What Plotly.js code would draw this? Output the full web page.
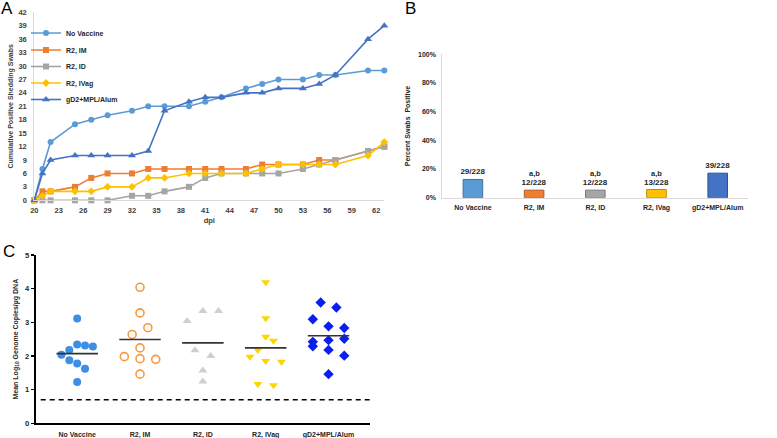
<!DOCTYPE html>
<html><head><meta charset="utf-8">
<script src="https://cdn.plot.ly/plotly-3.0.1.min.js"></script>
<style>html,body{margin:0;padding:0;background:#fff}#chart{width:777px;height:438px}</style>
</head><body><div id="chart"></div>
<script>
// ---------- Panel A: cumulative positive shedding swabs ----------
const dpi       = [20,21,22,25,27,29,32,34,36,39,41,43,46,48,50,53,55,57,61,63];
const noVaccine = [0,7,13,17,18,19,20,21,21,21,22,23,25,26,27,27,28,28,29,29];
const r2IM      = [0,2,2,3,5,6,6,7,7,7,7,7,7,8,8,8,9,9,11,12];
const r2ID      = [0,0,0,0,0,0,1,1,2,3,5,6,6,6,6,7,8,9,11,12];
const r2IVag    = [0,1,2,2,2,3,3,5,5,6,6,6,6,7,8,8,8,8,10,13];
const gD2Alum   = [0,6,9,10,10,10,10,11,20,22,23,23,24,24,25,25,26,28,36,39];

// ---------- Panel B: percent swabs positive ----------
const groups    = ['No Vaccine','R2, IM','R2, ID','R2, IVag','gD2+MPL/Alum'];
const positives = [29,12,12,13,39];
const totalSwabs = 228;
const sigLabels = ['','a,b','a,b','a,b',''];

// ---------- Panel C: mean log10 genome copies ----------
const cNoVaccine   = [3.11,2.34,2.31,2.28,2.18,2.04,1.87,1.78,1.62,1.23];
const cNoVaccineSl = [0,0,1,2,-1,-2,-1,0,1,0];
const cIM          = [4.04,3.28,2.84,2.64,2.24,1.98,1.92,1.90,1.46];
const cIMSl        = [0,0,1,-1,0,-2,0,2,0];
const cID          = [3.34,3.34,3.04,2.17,2.00,1.57,1.24];
const cIDSl        = [0,2,-2,-1,1,0,0];
const cIVag        = [4.19,3.12,2.57,2.45,2.18,1.98,1.85,1.83,1.17,1.13];
const cIVagSl      = [0,0,0,1,-1,-2,0,2,-1,1];
const cGD2         = [3.59,3.44,3.09,2.88,2.83,2.51,2.47,2.42,2.29,2.18,2.01,1.46];
const cGD2Sl       = [-1,1,-2,0,2,2,0,-2,-2,0,2,0];
const cMeans       = [2.07,2.49,2.39,2.24,2.60];
const detectionLimit = 0.7;

const FF = 'Liberation Sans, Arial, sans-serif';
const tf = (s, c) => ({family: FF, size: s, color: c || '#404040', weight: 'bold'});
const colsA = ['#5B9BD5','#ED7D31','#A5A5A5','#FFC000','#4472C4'];
const edgeB = ['#41719C','#AE5A21','#787878','#BC8C00','#2F528F'];

const seriesA = [noVaccine, r2IM, r2ID, r2IVag, gD2Alum];
const symA = ['circle','square','square','diamond','triangle-up'];
const sizeA = [6,6,6,6,7];
const legNames = ['legend','legend2','legend3','legend4','legend5'];

const traces = [];
seriesA.forEach((ys, i) => {
  traces.push({type:'scatter', mode:'lines+markers', x: dpi, y: ys, name: groups[i],
    xaxis:'x', yaxis:'y', cliponaxis:false, legend: legNames[i],
    line:{color: colsA[i], width:1.6}, marker:{color: colsA[i], symbol: symA[i], size: sizeA[i]}});
});

// Panel B bars
traces.push({type:'bar', x: groups, y: positives.map(p => p / totalSwabs),
  xaxis:'x2', yaxis:'y2', showlegend:false, width:0.32,
  marker:{color: colsA, line:{color: edgeB, width:1}},
  text: positives.map(p => p + '/' + totalSwabs), textposition:'outside', constraintext:'none',
  textfont: tf(8,'#262626'), cliponaxis:false});

// Panel C scatter
const step = 0.125;
const cSets = [
  [cNoVaccine, cNoVaccineSl, {color:'#3D8FE6', symbol:'circle', size:8}],
  [cIM, cIMSl, {color:'#F79A3E', symbol:'circle-open', size:8, line:{width:1.6}}],
  [cID, cIDSl, {color:'#CFCFCF', symbol:'triangle-up', size:8}],
  [cIVag, cIVagSl, {color:'#FFD500', symbol:'triangle-down', size:8}],
  [cGD2, cGD2Sl, {color:'#0A1EF0', symbol:'diamond', size:8}]
];
cSets.forEach((s, i) => {
  traces.push({type:'scatter', mode:'markers', x: s[1].map(k => i + k*step), y: s[0],
    xaxis:'x3', yaxis:'y3', showlegend:false, marker: s[2], cliponaxis:false});
});
const mx = [], my = [];
cMeans.forEach((m, i) => { mx.push(i-0.33, i+0.33, null); my.push(m, m, null); });
traces.push({type:'scatter', mode:'lines', x: mx, y: my, xaxis:'x3', yaxis:'y3',
  showlegend:false, line:{color:'#333333', width:1.6}});

const letter = (t, x, y) => ({text:t, xref:'paper', yref:'paper', x:x/777, y:1-y/438,
  xanchor:'center', yanchor:'middle', showarrow:false, font:{family:FF, size:17, color:'#000'}});
const annotations = [letter('A', 7, 9), letter('B', 410, 9), letter('C', 9, 251)];
sigLabels.forEach((s, i) => {
  if (s) annotations.push({text: s, xref:'x2', yref:'y2', x: groups[i], y: 0.17, showarrow:false, font: tf(7.5,'#262626')});
});

const legendBase = (yPx) => ({x: 26/777, y: 1 - yPx/438, xanchor:'left', yanchor:'middle',
  bgcolor:'rgba(0,0,0,0)', font: tf(7,'#262626'), itemwidth:30});

const hidTick = {ticks:'outside', tickcolor:'rgba(0,0,0,0)'};

const layout = {
  width:777, height:438, margin:{l:0,r:0,t:0,b:0},
  paper_bgcolor:'#fff', plot_bgcolor:'rgba(0,0,0,0)',
  legend: legendBase(33), legend2: legendBase(50), legend3: legendBase(66.5),
  legend4: legendBase(83), legend5: legendBase(99.5),
  xaxis:{domain:[34.3/777, 384.3/777], range:[20,63], tick0:20, dtick:3, showgrid:false, zeroline:false,
    showline:true, linecolor:'#D9D9D9', linewidth:1, ...hidTick, ticklen:3, tickfont: tf(7.5),
    title:{text:'dpi', font: tf(7.5), standoff:3}, anchor:'y'},
  yaxis:{domain:[1-200.3/438, 1-12.3/438], range:[0,42], tick0:0, dtick:3, showgrid:false, zeroline:false,
    showline:true, linecolor:'#D9D9D9', ...hidTick, ticklen:5, tickfont: tf(7.5),
    title:{text:'Cumulative Positive Shedding Swabs', font: tf(7), standoff:4}, anchor:'x'},
  xaxis2:{domain:[442.3/777, 748.3/777], type:'category', showgrid:false, zeroline:false,
    showline:true, linecolor:'#D9D9D9', ...hidTick, ticklen:3, tickfont: tf(7,'#262626'), anchor:'y2'},
  yaxis2:{domain:[1-197.7/438, 1-54.3/438], range:[0,1], dtick:0.2, tickformat:'.0%', showgrid:false, zeroline:false,
    showline:true, linecolor:'#D9D9D9', ...hidTick, ticklen:4, tickfont: tf(7,'#262626'),
    title:{text:'Percent Swabs  Positive', font: tf(7,'#262626'), standoff:6}, anchor:'x2'},
  xaxis3:{domain:[35.7/777, 370/777], range:[-0.66,4.66], tickvals:[0,1,2,3,4], ticktext: groups,
    showgrid:false, zeroline:false, showline:true, linecolor:'#000', linewidth:2, ...hidTick, ticklen:3,
    tickfont: tf(7,'#262626'), anchor:'y3'},
  yaxis3:{domain:[1-423.3/438, 1-255/438], range:[0,5], dtick:1, showgrid:false, zeroline:false,
    showline:true, linecolor:'#000', linewidth:2, ticks:'outside', ticklen:3, tickwidth:1.5, tickcolor:'#000',
    tickfont: tf(7.5,'#262626'), anchor:'x3',
    title:{text:'Mean Log<sub>10</sub> Genome Copies/µg DNA', font: tf(7,'#262626'), standoff:6}},
  shapes:[{type:'line', xref:'x3 domain', yref:'y3', x0:0.015, x1:1, y0:detectionLimit, y1:detectionLimit,
    line:{color:'#000', width:1.6, dash:'5px,4px'}}],
  annotations
};

Plotly.newPlot('chart', traces, layout, {displayModeBar:false, staticPlot:true});
</script></body></html>
